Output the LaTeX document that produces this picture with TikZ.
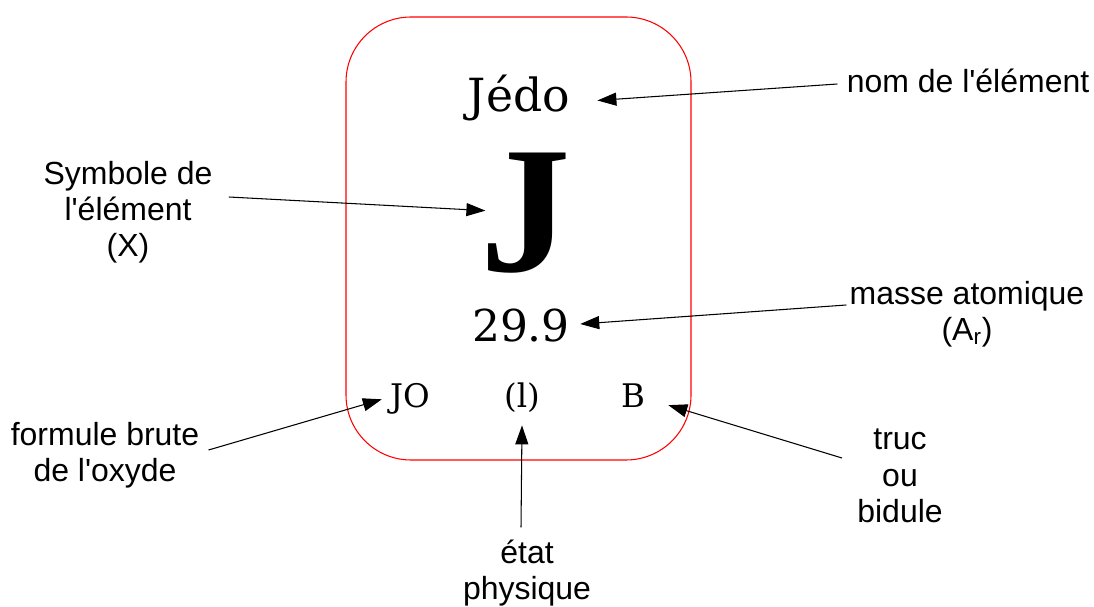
\documentclass[tikz,border=0pt]{standalone}
\usepackage{fontspec}
\setmainfont{DejaVu Serif}
\setsansfont{Liberation Sans}[Ligatures=TeXOff]
\newfontfamily\symfont{Liberation Serif}
\usetikzlibrary{
  arrows.meta,
  positioning,
  calc
}
\tikzset{
  lblbox/.style={align=center, inner sep=0pt,
    font=\sffamily\fontsize{18.2}{20.6}\selectfont},
  valbox/.style={inner sep=0pt, anchor=base},
  arr/.style={-{Triangle[length=0.38cm, width=0.26cm]}, line width=0.6pt},
}

\begin{document}
\begin{tikzpicture}[x=0.02cm, y=-0.02cm]
  \useasboundingbox (0,0) rectangle (1094,607);

  % Case
  \draw[red, line width=0.6pt, rounded corners=1.3cm] (346,17) rectangle (691,460);

  % Contenu de la case
  \node[valbox, font=\fontsize{26}{30}\selectfont] (nom) at (519,112) {Jédo};
  \node[valbox, font=\symfont\bfseries\fontsize{103}{110}\selectfont] (sym) at (526,272) {J};
  \node[valbox, font=\fontsize{25}{30}\selectfont] (masse) at (521,342) {29.9};
  \node[valbox, font=\fontsize{18.5}{22}\selectfont] (oxyde) at (410,407) {JO};
  \node[valbox, font=\fontsize{18.5}{22}\selectfont] (etat) at (522,407) {(l)};
  \node[valbox, font=\fontsize{18.5}{22}\selectfont] (truc) at (633,407) {B};

  % Legendes
  \node[lblbox] (lnom) at (968,81) {nom de l'élément};
  \node[lblbox] (lsym) at (128,212) {Symbole de\\l'élément\\(X)};
  \node[lblbox] (lmasse) at (967,314) {masse atomique\\(A\textsubscript{r})};
  \node[lblbox] (loxyde) at (105,455) {formule brute\\de l'oxyde};
  \node[lblbox] (ltruc) at (900,476) {truc\\ou\\bidule};
  \node[lblbox] (letat) at (527,573) {état\\physique};

  % Fleches
  \draw[arr] ($(lnom.west)+(-9,3)$) -- ($(nom.east)+(27,2)$);
  \draw[arr] ($(lsym.east)+(16,-15)$) -- ($(sym.west)+(5,-3)$);
  \draw[arr] ($(lmasse.west)+(-3,-9)$) -- ($(masse.east)+(10,-2)$);
  \draw[arr] ($(loxyde.east)+(9,-5)$) -- ($(oxyde.west)+(-8,1)$);
  \draw[arr] ($(ltruc.west)+(-15,-18)$) -- ($(truc.east)+(23,10)$);
  \draw[arr] ($(letat.north)+(-6,-12)$) -- ($(etat.south)+(0,13)$);
\end{tikzpicture}
\end{document}
